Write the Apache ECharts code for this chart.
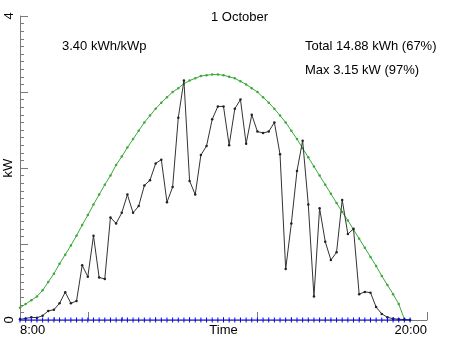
<!DOCTYPE html>
<html>
<head>
<meta charset="utf-8">
<script src="https://cdn.jsdelivr.net/npm/echarts@6/dist/echarts.min.js"></script>
<style>
html,body{margin:0;padding:0;background:#fff;}
#chart{width:452px;height:339px;}
</style>
</head>
<body>
<div id="chart"></div>
<script>
// Time axis: readings every 10 minutes starting at 8:00
const startHour = 8;
const stepMinutes = 10;

// Measured power (kW), 8:00 .. 19:30
const actualKW = [
  0.01, 0.02, 0.035, 0.03, 0.057, 0.12,
  0.135, 0.22, 0.365, 0.22, 0.25, 0.72,
  0.57, 1.11, 0.56, 0.54, 1.35, 1.27,
  1.41, 1.65, 1.41, 1.50, 1.77, 1.84,
  2.06, 2.11, 1.55, 1.75, 2.66, 3.15,
  1.83, 1.65, 2.17, 2.29, 2.64, 2.81,
  2.81, 2.30, 2.78, 2.90, 2.32, 2.70,
  2.48, 2.46, 2.48, 2.60, 2.18, 0.67,
  1.27, 1.96, 2.36, 1.52, 0.31, 1.47,
  1.03, 0.79, 0.89, 1.58, 1.13, 1.20,
  0.34, 0.37, 0.36, 0.17, 0.08, 0.035,
  0.017, 0.01, 0.005, 0.0
];

// Clear-sky reference power (kW), 8:00 .. 19:30
const clearSkyKW = [
  0.16, 0.21, 0.26, 0.31, 0.39, 0.50,
  0.61, 0.74, 0.86, 0.98, 1.11, 1.25,
  1.38, 1.52, 1.65, 1.78, 1.90, 2.04,
  2.15, 2.27, 2.38, 2.49, 2.60, 2.69,
  2.78, 2.86, 2.93, 3.00, 3.05, 3.11,
  3.15, 3.18, 3.21, 3.22, 3.23, 3.23,
  3.22, 3.20, 3.18, 3.14, 3.10, 3.05,
  3.00, 2.93, 2.86, 2.78, 2.69, 2.60,
  2.49, 2.38, 2.26, 2.14, 2.02, 1.90,
  1.78, 1.66, 1.54, 1.42, 1.31, 1.19,
  1.07, 0.95, 0.83, 0.71, 0.58, 0.46,
  0.34, 0.21, 0.01, 0.0
];

// Baseline (kW)
const baselineKW = [
  0,0,0,0,0,0, 0,0,0,0,0,0, 0,0,0,0,0,0, 0,0,0,0,0,0,
  0,0,0,0,0,0, 0,0,0,0,0,0, 0,0,0,0,0,0, 0,0,0,0,0,0,
  0,0,0,0,0,0, 0,0,0,0,0,0, 0,0,0,0,0,0, 0,0,0,0
];

const xTickLabels = { 8: '8:00', 20: '20:00' };
const yTickLabels = { 0: '0', 4: '4' };
const titleText = '1 October';
const yieldText = '3.40 kWh/kWp';
const totalText = 'Total 14.88 kWh (67%)';
const maxText = 'Max 3.15 kW (97%)';

function toPairs(arr) {
  return arr.map((v, i) => [startHour + i * stepMinutes / 60, v]);
}

const FONT = '"Liberation Sans", Arial, sans-serif';
const AXIS_COLOR = '#7a7a7a';

const chart = echarts.init(document.getElementById('chart'), null, { renderer: 'canvas' });
chart.setOption({
  animation: false,
  backgroundColor: '#ffffff',
  grid: { left: 20, right: 25, top: 16, bottom: 19, containLabel: false, outerBoundsMode: 'none' },
  xAxis: [
    {
      type: 'value', min: 8, max: 20, interval: 1,
      name: 'Time', nameLocation: 'middle', nameGap: 4, nameMoveOverlap: false,
      nameTextStyle: { color: '#000', fontFamily: FONT, fontSize: 13, verticalAlign: 'top' },
      axisLine: { show: true, lineStyle: { color: AXIS_COLOR, width: 1 } },
      axisTick: { show: true, inside: true, length: 8, customValues: [10, 15, 20], lineStyle: { color: AXIS_COLOR } },
      axisLabel: {
        show: true, margin: 4, color: '#000', fontFamily: FONT, fontSize: 13,
        customValues: [8, 20],
        alignMinLabel: 'left', alignMaxLabel: 'right',
        formatter: v => xTickLabels[v] || ''
      },
      splitLine: { show: false }
    },
    {
      type: 'value', min: 8, max: 20, interval: 1, position: 'bottom',
      axisLine: { show: false },
      axisTick: { show: true, inside: true, length: 3, lineStyle: { color: AXIS_COLOR } },
      axisLabel: { show: false },
      splitLine: { show: false }
    }
  ],
  yAxis: {
    type: 'value', min: 0, max: 4, interval: 1,
    name: 'kW', nameLocation: 'middle', nameGap: 5, nameRotate: 90, nameMoveOverlap: false,
    nameTextStyle: { color: '#000', fontFamily: FONT, fontSize: 13 },
    axisLine: { show: true, lineStyle: { color: AXIS_COLOR, width: 1 } },
    axisTick: { show: true, inside: true, length: 8, lineStyle: { color: AXIS_COLOR } },
    minorTick: { show: true, splitNumber: 10, length: 4, lineStyle: { color: AXIS_COLOR } },
    axisLabel: {
      show: true, rotate: 90, margin: 4, color: '#000', fontFamily: FONT, fontSize: 13,
      customValues: [0, 4],
      formatter: v => (yTickLabels[v] !== undefined ? yTickLabels[v] : '')
    },
    splitLine: { show: false }
  },
  graphic: [
    { type: 'text', left: 211, top: 11, style: { text: titleText, font: '13px ' + FONT, fill: '#000', textAlign: 'center' } },
    { type: 'text', left: 62, top: 40, style: { text: yieldText, font: '13px ' + FONT, fill: '#000' } },
    { type: 'text', left: 305, top: 40, style: { text: totalText, font: '13px ' + FONT, fill: '#000' } },
    { type: 'text', left: 305, top: 64, style: { text: maxText, font: '13px ' + FONT, fill: '#000' } }
  ],
  series: [
    {
      name: 'clear sky', type: 'line', xAxisIndex: 0, data: toPairs(clearSkyKW),
      symbol: 'circle', symbolSize: 2.5, showSymbol: true,
      lineStyle: { color: '#3aaa3a', width: 1 }, itemStyle: { color: '#3aaa3a' }, z: 3
    },
    {
      name: 'actual', type: 'line', xAxisIndex: 0, data: toPairs(actualKW),
      symbol: 'circle', symbolSize: 2.5, showSymbol: true,
      lineStyle: { color: '#333333', width: 1 }, itemStyle: { color: '#222222' }, z: 4
    },
    {
      name: 'baseline', type: 'line', xAxisIndex: 0, data: toPairs(baselineKW),
      symbol: 'rect', symbolSize: [1, 5], showSymbol: true,
      lineStyle: { color: '#0000ff', width: 1 }, itemStyle: { color: '#0000ff' }, z: 5
    }
  ]
});
</script>
</body>
</html>
